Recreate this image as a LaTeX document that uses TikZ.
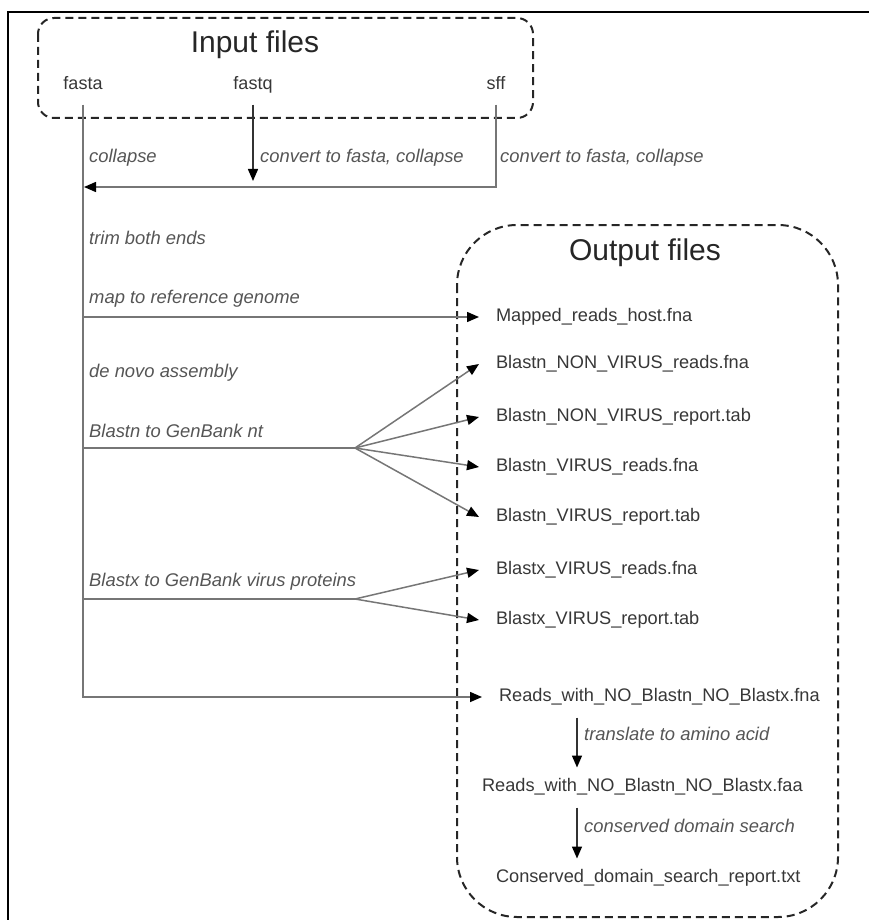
\documentclass[tikz,border=0pt]{standalone}
\usepackage{fontspec}
\setmainfont{Liberation Sans}
\usetikzlibrary{arrows.meta}
\definecolor{ln}{RGB}{118,118,118}
\definecolor{tx}{RGB}{55,55,55}
\definecolor{lb}{RGB}{85,85,85}
\begin{document}
\begin{tikzpicture}[x=1pt,y=-1pt,
  conn/.style={draw=ln,line width=1.5pt},
  arr/.style={conn,-{Triangle[length=12pt,width=10pt,color=black]}},
  lbl/.style={font=\fontsize{18.4}{20}\selectfont\itshape,text=lb,anchor=west,inner sep=0pt,text height=13pt,text depth=4pt},
  outf/.style={font=\fontsize{18.2}{20}\selectfont,text=tx,anchor=west,inner sep=0pt,outer xsep=17pt,outer ysep=0pt,text height=13pt,text depth=4pt},
  inp/.style={font=\fontsize{18}{20}\selectfont,text=tx,inner sep=0pt,text height=13pt,text depth=4pt},
  ttl/.style={font=\fontsize{30}{34}\selectfont,text=black!85,inner sep=0pt},
  dbox/.style={draw=black!85,line width=2pt,dash pattern=on 8pt off 5pt}]
\useasboundingbox (0,0) rectangle (869,920);
% frame
\draw[line width=2.2pt] (8,930) -- (8,12) -- (880,12);
% containers
\draw[dbox,rounded corners=16pt] (38,18) rectangle (533,118);
\draw[dbox,rounded corners=60pt] (457,225) rectangle (838,917);
\node[ttl] (tin) at (255,45) {Input files};
\node[ttl] (tout) at (645,253) {Output files};
% inputs
\node[inp] (fasta) at (83,85) {fasta};
\node[inp] (fastq) at (253,85) {fastq};
\node[inp] (sff) at (496,85) {sff};
% junction coordinates
\coordinate (jin) at (84,187);
\coordinate (qend) at (253,181);
\coordinate (jmap) at (83,317);
\coordinate (jbn) at (83,448);
\coordinate (jbx) at (83,599);
\coordinate (fanN) at (355,448);
\coordinate (fanX) at (355,599);
\coordinate (ax) at (577,0);
% outputs
\node[outf] (mapped) at (479,317) {Mapped\_reads\_host.fna};
\node[outf] (bnr) at (479,364) {Blastn\_NON\_VIRUS\_reads.fna};
\node[outf] (bnrep) at (479,417) {Blastn\_NON\_VIRUS\_report.tab};
\node[outf] (bvr) at (479,467) {Blastn\_VIRUS\_reads.fna};
\node[outf] (bvrep) at (479,517) {Blastn\_VIRUS\_report.tab};
\node[outf] (bxr) at (479,570) {Blastx\_VIRUS\_reads.fna};
\node[outf] (bxrep) at (479,620) {Blastx\_VIRUS\_report.tab};
\node[outf] (rfna) at (482,697) {Reads\_with\_NO\_Blastn\_NO\_Blastx.fna};
\node[outf] (rfaa) at (465,787) {Reads\_with\_NO\_Blastn\_NO\_Blastx.faa};
\node[outf] (cdr) at (479,878) {Conserved\_domain\_search\_report.txt};
% labels
\node[lbl] (l1) at (89,158) {collapse};
\node[lbl] (l2) at (260,158) {convert to fasta, collapse};
\node[lbl] (l3) at (500,158) {convert to fasta, collapse};
\node[lbl] (l4) at (89,240) {trim both ends};
\node[lbl] (l5) at (89,299) {map to reference genome};
\node[lbl] (l6) at (89,373) {de novo assembly};
\node[lbl] (l7) at (89,433) {Blastn to GenBank nt};
\node[lbl] (l8) at (89,582) {Blastx to GenBank virus proteins};
\node[lbl] (l9) at (584,736) {translate to amino acid};
\node[lbl] (l10) at (584,828) {conserved domain search};
% connectors
\draw[arr,shorten <=11pt] (fasta.south) |- (rfna.west);
\draw[arr,draw=black!80,shorten <=11pt] (fastq.south) -- (qend);
\draw[arr,shorten <=11pt] (sff.south) |- (jin);
\draw[arr] (jmap) -- (mapped.west);
\draw[conn] (jbn) -- (fanN);
\foreach \n in {bnr,bnrep,bvr,bvrep} \draw[arr] (fanN) -- (\n.west);
\draw[conn] (jbx) -- (fanX);
\foreach \n in {bxr,bxrep} \draw[arr] (fanX) -- (\n.west);
\draw[arr,draw=black!80,shorten <=12pt,shorten >=11pt] (rfna.south -| ax) -- (rfaa.north -| ax);
\draw[arr,draw=black!80,shorten <=12pt,shorten >=11pt] (rfaa.south -| ax) -- (cdr.north -| ax);
\end{tikzpicture}
\end{document}
